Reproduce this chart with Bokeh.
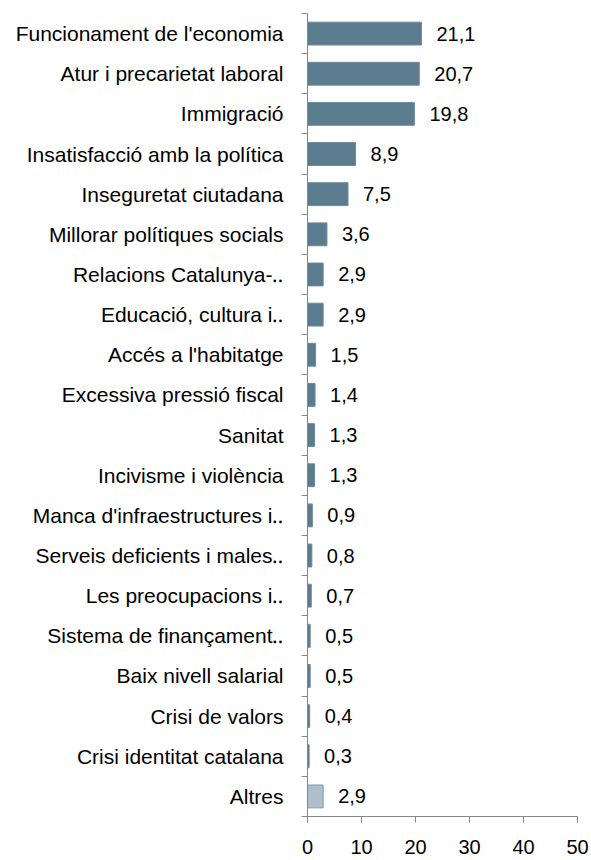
from bokeh.plotting import figure
from bokeh.models import FixedTicker, Range1d, ColumnDataSource
from bokeh.core.properties import value
from bokeh.embed import file_html
from bokeh.resources import INLINE

categories = [
    "Funcionament de l'economia",
    "Atur i precarietat laboral",
    "Immigració",
    "Insatisfacció amb la política",
    "Inseguretat ciutadana",
    "Millorar polítiques socials",
    "Relacions Catalunya-‥",
    "Educació, cultura i‥",
    "Accés a l'habitatge",
    "Excessiva pressió fiscal",
    "Sanitat",
    "Incivisme i violència",
    "Manca d'infraestructures i‥",
    "Serveis deficients i males‥",
    "Les preocupacions i‥",
    "Sistema de finançament‥",
    "Baix nivell salarial",
    "Crisi de valors",
    "Crisi identitat catalana",
    "Altres",
]
values = [21.1, 20.7, 19.8, 8.9, 7.5, 3.6, 2.9, 2.9, 1.5, 1.4, 1.3, 1.3,
          0.9, 0.8, 0.7, 0.5, 0.5, 0.4, 0.3, 2.9]
value_labels = ["21,1", "20,7", "19,8", "8,9", "7,5", "3,6", "2,9", "2,9", "1,5", "1,4",
                "1,3", "1,3", "0,9", "0,8", "0,7", "0,5", "0,5", "0,4", "0,3", "2,9"]
x_ticks = [0, 10, 20, 30, 40, 50]

n = len(categories)
ys = [n - i - 0.5 for i in range(n)]
fills = ["#5b7b8e"] * (n - 1) + ["#aebfcb"]
lines = ["#6d8b9c"] * (n - 1) + ["#7f9bad"]

src = ColumnDataSource(dict(y=ys, v=values, lab=value_labels, fill=fills, line=lines))

FONT = "Liberation Sans"
FS = "20px"

p = figure(width=591, height=860, output_backend="svg", toolbar_location=None,
           x_range=Range1d(0, 50), y_range=Range1d(0, n),
           min_border_left=307, min_border_right=14, min_border_top=13, min_border_bottom=44)
p.outline_line_color = None
p.xgrid.visible = False
p.ygrid.visible = False

p.hbar(y="y", right="v", left=0, height=0.57, fill_color="fill", line_color="line",
       line_width=1, source=src)
p.text(x="v", y="y", text="lab", x_offset=15, text_baseline="middle", text_align="left",
       text_font=value(FONT), text_font_size=FS, text_color="#000000", source=src)

AX = "#868686"
p.yaxis.ticker = FixedTicker(ticks=ys, minor_ticks=list(range(n + 1)))
p.yaxis.major_label_overrides = {y: c for y, c in zip(ys, categories)}
p.yaxis.major_tick_out = 0
p.yaxis.major_tick_in = 0
p.yaxis.minor_tick_out = 6
p.yaxis.minor_tick_in = 0
p.yaxis.minor_tick_line_color = AX
p.yaxis.axis_line_color = AX
p.yaxis.major_label_standoff = 18
p.yaxis.major_label_text_font = FONT
p.yaxis.major_label_text_font_size = "21px"
p.yaxis.major_label_text_color = "#000000"

p.xaxis.ticker = FixedTicker(ticks=x_ticks)
p.xaxis.minor_tick_line_color = None
p.xaxis.major_tick_out = 6
p.xaxis.major_tick_in = 0
p.xaxis.major_tick_line_color = AX
p.xaxis.axis_line_color = AX
p.xaxis.major_label_standoff = 17
p.xaxis.major_label_text_font = FONT
p.xaxis.major_label_text_font_size = FS
p.xaxis.major_label_text_color = "#000000"

open("out.html", "w").write(file_html(p, INLINE))
